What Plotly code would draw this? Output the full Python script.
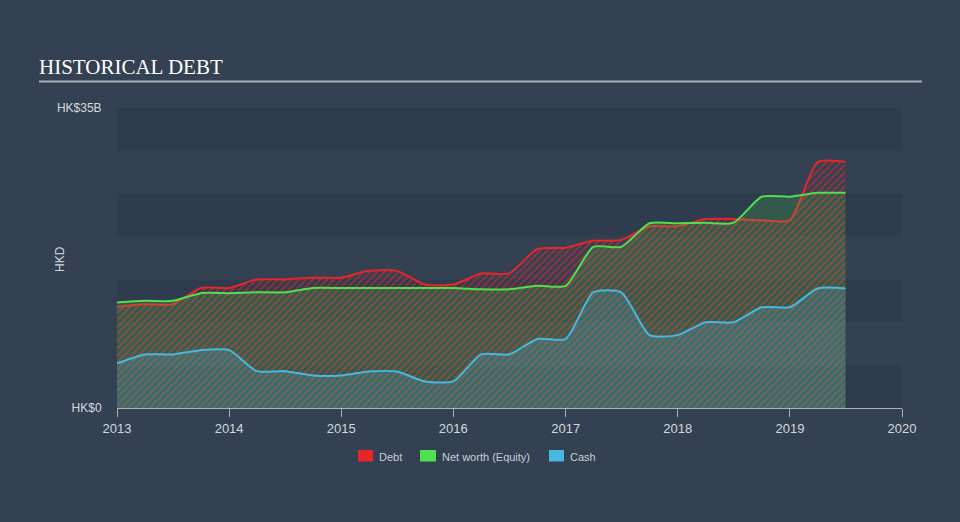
import plotly.graph_objects as go

dates = [
    "2013-01-01", "2013-04-01", "2013-07-01", "2013-10-01",
    "2014-01-01", "2014-04-01", "2014-07-01", "2014-10-01",
    "2015-01-01", "2015-04-01", "2015-07-01", "2015-10-01",
    "2016-01-01", "2016-04-01", "2016-07-01", "2016-10-01",
    "2017-01-01", "2017-04-01", "2017-07-01", "2017-10-01",
    "2018-01-01", "2018-04-01", "2018-07-01", "2018-10-01",
    "2019-01-01", "2019-04-01", "2019-07-01",
]
debt = [11.8, 12.1, 12.1, 14.0, 14.0, 15.0, 15.0, 15.2, 15.2, 16.0, 16.0, 14.4, 14.4,
        15.7, 15.7, 18.55, 18.7, 19.5, 19.6, 21.2, 21.2, 22.05, 22.05, 21.9, 21.9, 28.7, 28.7]
equity = [12.3, 12.5, 12.5, 13.4, 13.4, 13.5, 13.5, 14.0, 14.0, 14.0, 14.0, 14.0, 14.0,
          13.85, 13.85, 14.25, 14.25, 18.8, 18.8, 21.55, 21.55, 21.6, 21.6, 24.65, 24.65, 25.1, 25.1]
cash = [5.2, 6.25, 6.25, 6.75, 6.75, 4.3, 4.3, 3.8, 3.8, 4.25, 4.25, 3.1, 3.1,
        6.25, 6.25, 8.05, 8.05, 13.5, 13.5, 8.5, 8.5, 10.0, 10.0, 11.75, 11.75, 13.95, 13.95]
year_ticks = ["2013", "2014", "2015", "2016", "2017", "2018", "2019", "2020"]
y_tickvals = [0, 35]
y_ticktext = ["HK$0", "HK$35B"]
legend_names = ["Debt", "Net worth (Equity)", "Cash"]

RED = "#e8262a"
GREEN = "#4ee04e"
BLUE = "#47b8e0"
BG = "#334152"
FONT = "Liberation Sans, Arial, sans-serif"

# pixel helpers (plot area: x 117..902, y 108..408)
PL, PR, PT, PB = 117, 902, 108, 408
def px(x):
    return (x - PL) / (PR - PL)
def py(y):
    return (PB - y) / (PB - PT)

fig = go.Figure()

fig.add_trace(go.Scatter(
    x=dates, y=debt, mode="lines", name="Debt", showlegend=False,
    line=dict(color=RED, width=2, shape="spline", smoothing=0.6),
    fill="tozeroy", fillcolor="rgba(0,0,0,0)",
    fillpattern=dict(shape="/", fgcolor=RED, bgcolor="rgba(0,0,0,0)",
                     fgopacity=0.55, size=5, solidity=0.35),
))
fig.add_trace(go.Scatter(
    x=dates, y=equity, mode="lines", name="Net worth (Equity)", showlegend=False,
    line=dict(color=GREEN, width=2, shape="spline", smoothing=0.6),
    fill="tozeroy", fillcolor="rgba(78,224,78,0.18)",
))
fig.add_trace(go.Scatter(
    x=dates, y=cash, mode="lines", name="Cash", showlegend=False,
    line=dict(color=BLUE, width=2, shape="spline", smoothing=0.6),
    fill="tozeroy", fillcolor="rgba(71,184,224,0.2)",
))

# horizontal bands
for y0 in [0, 10, 20, 30]:
    fig.add_shape(type="rect", xref="paper", yref="y", x0=0, x1=1, y0=y0, y1=y0 + 5,
                  fillcolor="rgba(20,28,40,0.12)", line_width=0, layer="below")

# custom legend
leg_sq = [(358, 373), (420, 436), (549, 564)]
leg_tx = [378, 440.5, 569]
for (x0, x1), tx, nm, col in zip(leg_sq, leg_tx, legend_names, [RED, GREEN, BLUE]):
    fig.add_shape(type="rect", xref="paper", yref="paper", x0=px(x0), x1=px(x1),
                  y0=py(461.5), y1=py(450), fillcolor=col, line_width=0)
    fig.add_annotation(text=nm, xref="paper", yref="paper", x=px(tx - 1), y=py(456.5),
                       xanchor="left", yanchor="middle", showarrow=False,
                       font=dict(family=FONT, size=11, color="#c8cdd2"))

# title and underline
fig.add_annotation(text="HISTORICAL DEBT", xref="paper", yref="paper",
                   x=px(37), y=py(67), xanchor="left", yanchor="middle", showarrow=False,
                   font=dict(family="Liberation Serif, Times New Roman, serif", size=21, color="#ffffff"))
fig.add_shape(type="line", xref="paper", yref="paper", x0=px(39), x1=px(922),
              y0=py(81.5), y1=py(81.5), line=dict(color="#a9b0b8", width=2))
fig.add_annotation(text="HKD", xref="paper", yref="paper", x=px(60), y=py(259), textangle=-90,
                   xanchor="center", yanchor="middle", showarrow=False,
                   font=dict(family=FONT, size=12, color="#d4d8dc"))

fig.update_layout(
    width=960, height=522,
    margin=dict(l=PL, r=960 - PR, t=PT, b=522 - PB),
    paper_bgcolor=BG, plot_bgcolor=BG,
    font=dict(family=FONT, color="#d4d8dc"),
    showlegend=False,
    xaxis=dict(type="date", range=["2013-01-01", "2020-01-01"],
               tickvals=[f"{y}-01-01" for y in year_ticks], ticktext=year_ticks,
               showgrid=False, zeroline=False, showline=True, linecolor="#a9b0b8", linewidth=1,
               ticks="outside", ticklen=8, tickcolor="#a9b0b8",
               tickfont=dict(size=13, color="#d4d8dc")),
    yaxis=dict(range=[0, 35], tickvals=y_tickvals, ticktext=y_ticktext,
               showgrid=False, zeroline=False, showline=False,
               ticks="outside", ticklen=12, tickcolor="rgba(0,0,0,0)",
               tickfont=dict(size=12, color="#d4d8dc")),
)

fig.write_html("out.html")
